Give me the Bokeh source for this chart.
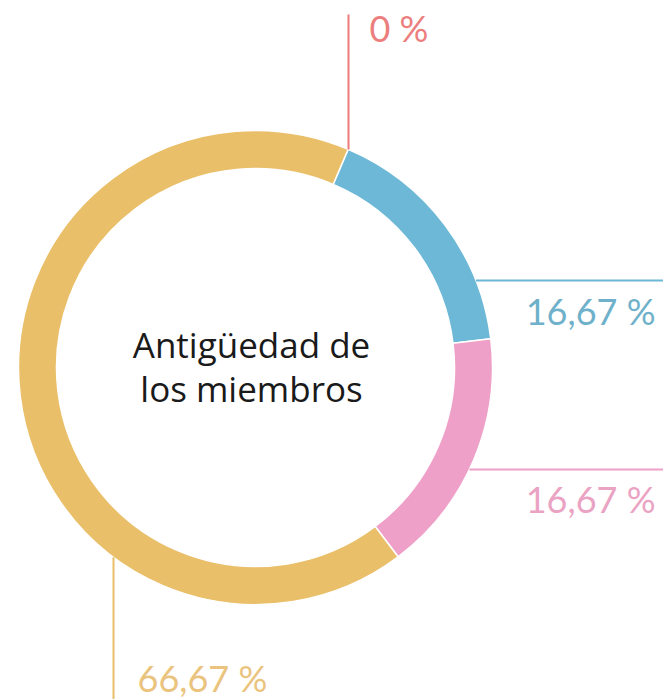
import numpy as np
from bokeh.plotting import figure
from bokeh.models import Range1d, ColumnDataSource
from bokeh.embed import file_html
from bokeh.resources import INLINE
from bokeh.core.properties import value

# ---- data ----
categories = ["Grupo 1", "Grupo 2", "Grupo 3", "Grupo 4"]
percentages = [0.0, 16.67, 16.67, 66.67]
labels = ["0 %", "16,67 %", "16,67 %", "66,67 %"]
colors = ["#EE7B7B", "#6CB8D6", "#EFA0C8", "#EABF6A"]
text_colors = ["#EC7E7E", "#6FB1CA", "#EBA3C3", "#EAC47E"]
title_lines = ["Antigüedad de", "los miembros"]

# ---- layout ----
W, H = 663, 699
M = 0       # page offset observed in the photograph
TSHIFT = 15  # observed baseline offset of svg text


def px(x):
    return x - M


def py(y):
    return H - (y - M)


CX, CY = px(255), py(367)
R_OUT, R_IN = 237, 199
OFFSET = 23  # degrees clockwise from top where the first slice starts

p = figure(width=W, height=H, x_range=Range1d(0, W), y_range=Range1d(0, H),
           output_backend="svg", toolbar_location=None, min_border=0,
           outline_line_color=None, background_fill_color="white",
           border_fill_color="white")
p.axis.visible = False
p.grid.visible = False

total = sum(percentages)
cum = np.cumsum([0] + percentages[:-1])
a1 = OFFSET + 360.0 * cum / total
a2 = a1 + 360.0 * np.array(percentages) / total
keep = np.array(percentages) > 0
src = ColumnDataSource(dict(
    start=np.radians(90 - a2[keep]),
    end=np.radians(90 - a1[keep]),
    color=[c for c, k in zip(colors, keep) if k],
    cat=[c for c, k in zip(categories, keep) if k],
))
p.annular_wedge(x=CX, y=CY, inner_radius=R_IN, outer_radius=R_OUT,
                start_angle="start", end_angle="end", direction="anticlock",
                fill_color="color", line_color="white", line_width=1.5,
                source=src)


# leader lines (page coordinates), ending on the ring
def ring_y_for_x(x, sign):
    dx = px(x) - CX
    return CY + sign * np.sqrt(R_OUT ** 2 - dx ** 2)


def ring_x_for_y(y, sign):
    dy = py(y) - CY
    return CX + sign * np.sqrt(R_OUT ** 2 - dy ** 2)


lx0 = [px(348), ring_x_for_y(280, 1), ring_x_for_y(469, 1), px(113)]
lx1 = [px(348), W, W, px(113)]
ly0 = [ring_y_for_x(348, 1), py(280), py(469), ring_y_for_x(113, -1)]
ly1 = [py(14), py(280), py(469), 0]
for i in range(4):
    p.line([lx0[i], lx1[i]], [ly0[i], ly1[i]], line_color=colors[i], line_width=2)

# labels
tx = [px(369), px(655), px(655), px(137)]
ty = [py(42 - TSHIFT), py(325 - TSHIFT), py(513 - TSHIFT), py(692 - TSHIFT)]
align = ["left", "right", "right", "left"]
lab_src = ColumnDataSource(dict(x=tx, y=ty, t=labels, c=text_colors, a=align))
p.text(x="x", y="y", text="t", text_color="c", text_align="a",
       text_baseline="alphabetic", text_font=value("Lato"),
       text_font_size="36px", source=lab_src)

# centre title
p.text(x=[px(251), px(251)], y=[py(359 - TSHIFT), py(403 - TSHIFT)], text=title_lines,
       text_color="#1a1a1a", text_align="center", text_baseline="alphabetic",
       text_font=value("Open Sans"), text_font_size="35px")

open("out.html", "w").write(file_html(p, INLINE))
